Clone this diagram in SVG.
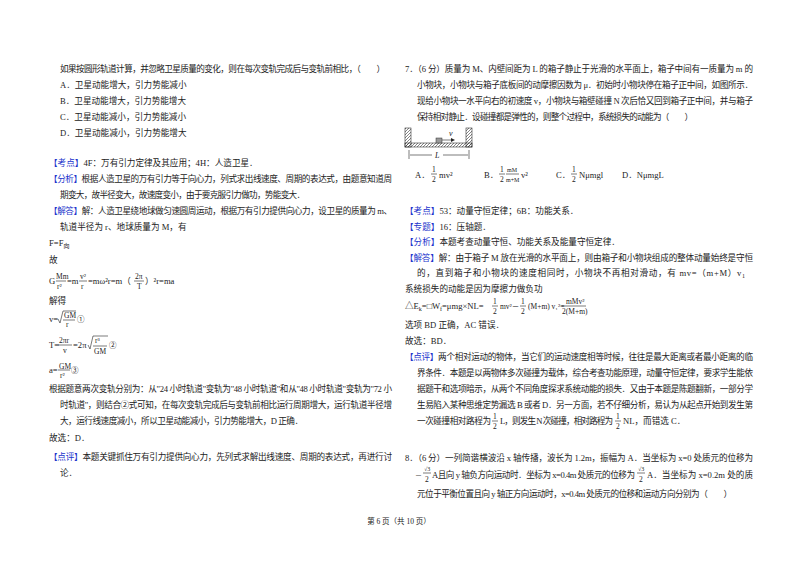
<svg xmlns="http://www.w3.org/2000/svg" width="800" height="565" viewBox="0 0 800 565">
<style>
text{font-family:"Liberation Serif","Noto Sans CJK SC",serif;font-size:8.6px;fill:#222}
.b{fill:#2233cc}
.s{font-size:7.5px}
.f{font-size:6px}
.ln{stroke:#222;stroke-width:0.6;fill:none}
</style>
<defs>
<pattern id="h" width="3" height="3" patternUnits="userSpaceOnUse"><path d="M0 3L3 0" stroke="#333" stroke-width="0.6"/></pattern>
</defs>
<rect width="800" height="565" fill="#fff"/>
<g id="left">
<text x="60" y="72" textLength="325">如果按圆形轨道计算，并忽略卫星质量的变化，则在每次变轨完成后与变轨前相比，（　　）</text>
<text x="60" y="88">A．卫星动能增大，引力势能减小</text>
<text x="60" y="104">B．卫星动能增大，引力势能增大</text>
<text x="60" y="120">C．卫星动能减小，引力势能减小</text>
<text x="60" y="136">D．卫星动能减小，引力势能增大</text>
<text x="49" y="166"><tspan class="b">【考点】</tspan>4F：万有引力定律及其应用；4H：人造卫星．</text>
<text x="49" y="182" textLength="343"><tspan class="b">【分析】</tspan>根据人造卫星的万有引力等于向心力，列式求出线速度、周期的表达式，由题意知道周</text>
<text x="60" y="198" textLength="245">期变大，故半径变大，故速度变小，由于要克服引力做功，势能变大．</text>
<text x="49" y="214" textLength="343"><tspan class="b">【解答】</tspan>解：人造卫星绕地球做匀速圆周运动，根据万有引力提供向心力，设卫星的质量为 m、</text>
<text x="60" y="230">轨道半径为 r、地球质量为 M，有</text>
<text x="49" y="246">F=F<tspan class="f" dy="2">向</tspan></text>
<text x="49" y="263">故</text>
<text x="49" y="284">G</text><text x="56" y="279" class="s">Mm</text><line class="ln" x1="56" y1="281" x2="66" y2="281"/><text x="57" y="289" class="s">r²</text>
<text x="67" y="284">=m</text><text x="80" y="279" class="s">v²</text><line class="ln" x1="79" y1="281" x2="87" y2="281"/><text x="81" y="289" class="s">r</text>
<text x="88" y="284">=mω²r=m（</text><text x="135" y="279" class="s">2π</text><line class="ln" x1="134" y1="281" x2="144" y2="281"/><text x="137" y="289" class="s">T</text><text x="145" y="284">）²r=ma</text>
<text x="49" y="304">解得</text>
<text x="49" y="322">v=</text><path class="ln" d="M58 319l2 4l3-12h13"/><text x="64" y="318" class="s">GM</text><line class="ln" x1="63" y1="320" x2="75" y2="320"/><text x="66" y="327" class="s">r</text><text x="77" y="322" class="s">①</text>
<text x="49" y="348">T=</text><text x="59" y="343" class="s">2πr</text><line class="ln" x1="58" y1="345" x2="72" y2="345"/><text x="63" y="353" class="s">v</text><text x="73" y="348">=2π</text><path class="ln" d="M88 345l2 4l3-13h15"/><text x="95" y="343" class="s">r³</text><line class="ln" x1="93" y1="346" x2="107" y2="346"/><text x="94" y="354" class="s">GM</text><text x="109" y="348" class="s">②</text>
<text x="49" y="373">a=</text><text x="59" y="369" class="s">GM</text><line class="ln" x1="58" y1="370" x2="70" y2="370"/><text x="60" y="378" class="s">r²</text><text x="71" y="373" class="s">③</text>
<text x="49" y="392" textLength="343">根据题意两次变轨分别为：从"24 小时轨道"变轨为"48 小时轨道"和从"48 小时轨道"变轨为"72 小</text>
<text x="60" y="408" textLength="332">时轨道"，则结合②式可知，在每次变轨完成后与变轨前相比运行周期增大，运行轨道半径增</text>
<text x="60" y="424" textLength="243">大，运行线速度减小，所以卫星动能减小，引力势能增大，D 正确．</text>
<text x="49" y="441">故选：D．</text>
<text x="49" y="460" textLength="343"><tspan class="b">【点评】</tspan>本题关键抓住万有引力提供向心力，先列式求解出线速度、周期的表达式，再进行讨</text>
<text x="60" y="476">论．</text>
</g>
<text x="399" y="524" text-anchor="middle" style="font-size:7.5px">第 6 页（共 10 页）</text>
<g id="right">
<text x="405" y="72" textLength="348">7．（6 分）质量为 M、内壁间距为 L 的箱子静止于光滑的水平面上，箱子中间有一质量为 m 的</text>
<text x="417" y="88" textLength="336">小物块，小物块与箱子底板间的动摩擦因数为 μ．初始时小物块停在箱子正中间，如图所示．</text>
<text x="417" y="104" textLength="336">现给小物块一水平向右的初速度 v，小物块与箱壁碰撞 N 次后恰又回到箱子正中间，并与箱子</text>
<text x="417" y="120" textLength="276">保持相对静止．设碰撞都是弹性的，则整个过程中，系统损失的动能为（　　）</text>
<g id="figure">
<rect x="405" y="128" width="6" height="19" fill="url(#h)" stroke="#333" stroke-width="0.6"/>
<rect x="466" y="128" width="6" height="19" fill="url(#h)" stroke="#333" stroke-width="0.6"/>
<rect x="405" y="143" width="67" height="4" fill="url(#h)" stroke="#333" stroke-width="0.6"/>
<rect x="436" y="138" width="6" height="5" fill="#999" stroke="#333" stroke-width="0.5"/>
<line class="ln" x1="442" y1="140" x2="452" y2="140"/><path d="M455 140l-4-2v4z" fill="#222"/>
<text x="449" y="136" style="font-size:8px;font-style:italic">v</text>
<line class="ln" x1="409" y1="150" x2="409" y2="159"/><line class="ln" x1="469" y1="150" x2="469" y2="159"/>
<line class="ln" x1="410" y1="155" x2="432" y2="155"/><line class="ln" x1="443" y1="155" x2="468" y2="155"/>
<text x="435" y="158" style="font-size:8px;font-style:italic">L</text>
</g>
<text x="415" y="178">A．</text><text x="432" y="172" class="s">1</text><line class="ln" x1="431" y1="174" x2="437" y2="174"/><text x="432" y="182" class="s">2</text><text x="439" y="178">mv²</text>
<text x="484" y="178">B．</text><text x="500" y="172" class="s">1</text><line class="ln" x1="499" y1="174" x2="505" y2="174"/><text x="500" y="182" class="s">2</text><text x="507" y="172" class="f">mM</text><line class="ln" x1="506" y1="174" x2="519" y2="174"/><text x="506" y="182" class="f">m+M</text><text x="521" y="178">v²</text>
<text x="556" y="178">C．</text><text x="572" y="172" class="s">1</text><line class="ln" x1="571" y1="174" x2="577" y2="174"/><text x="572" y="182" class="s">2</text><text x="579" y="178">Nμmgl</text>
<text x="622" y="178">D．NμmgL</text>
<text x="405" y="214"><tspan class="b">【考点】</tspan>53：动量守恒定律；6B：功能关系．</text>
<text x="405" y="230"><tspan class="b">【专题】</tspan>16：压轴题．</text>
<text x="405" y="245"><tspan class="b">【分析】</tspan>本题考查动量守恒、功能关系及能量守恒定律．</text>
<text x="405" y="261" textLength="348"><tspan class="b">【解答】</tspan>解：由于箱子 M 放在光滑的水平面上，则由箱子和小物块组成的整体动量始终是守恒</text>
<text x="417" y="276" textLength="328">的，直到箱子和小物块的速度相同时，小物块不再相对滑动，有 mv=（m+M）v<tspan class="f" dy="2">1</tspan></text>
<text x="405" y="292">系统损失的动能是因为摩擦力做负功</text>
<text x="405" y="309">△E<tspan class="f" dy="2">k</tspan><tspan dy="-2">=□W</tspan><tspan class="f" dy="2">f</tspan><tspan dy="-2">=μmg×NL=</tspan></text>
<text x="493" y="304" class="s">1</text><line class="ln" x1="492" y1="306" x2="498" y2="306"/><text x="493" y="314" class="s">2</text><text x="500" y="309" class="s">mv²－</text>
<text x="521" y="304" class="s">1</text><line class="ln" x1="520" y1="306" x2="526" y2="306"/><text x="521" y="314" class="s">2</text><text x="528" y="309" class="s">(M+m) v₁²=</text>
<text x="566" y="304" class="s">mMv²</text><line class="ln" x1="562" y1="306" x2="586" y2="306"/><text x="562" y="314" class="s">2(M+m)</text>
<text x="405" y="328">选项 BD 正确，AC 错误．</text>
<text x="405" y="344">故选：BD．</text>
<text x="405" y="360" textLength="348"><tspan class="b">【点评】</tspan>两个相对运动的物体，当它们的运动速度相等时候，往往是最大距离或者最小距离的临</text>
<text x="417" y="376" textLength="336">界条件．本题是以两物体多次碰撞为载体，综合考查功能原理，动量守恒定律，要求学生能依</text>
<text x="417" y="392" textLength="336">据题干和选项暗示，从两个不同角度探求系统动能的损失．又由于本题是陈题翻新，一部分学</text>
<text x="417" y="408" textLength="336">生易陷入某种思维定势漏选 B 或者 D．另一方面，若不仔细分析，易认为从起点开始到发生第</text>
<text x="417" y="424" textLength="74">一次碰撞相对路程为</text><text x="493" y="419" class="s">1</text><line class="ln" x1="492" y1="421" x2="498" y2="421"/><text x="493" y="429" class="s">2</text><text x="500" y="424" textLength="113">L，则发生 N 次碰撞，相对路程为</text><text x="616" y="419" class="s">1</text><line class="ln" x1="615" y1="421" x2="621" y2="421"/><text x="616" y="429" class="s">2</text><text x="623" y="424">NL，而错选 C．</text>
<text x="405" y="461" textLength="348">8．（6 分）一列简谐横波沿 x 轴传播，波长为 1.2m，振幅为 A．当坐标为 x=0 处质元的位移为</text>
<text x="415" y="478" style="font-size:7px">－</text><text x="424" y="471" class="f">√3</text><line class="ln" x1="423" y1="473" x2="431" y2="473"/><text x="425" y="482" class="s">2</text><text x="432" y="478" textLength="203">A且向 y 轴负方向运动时．坐标为 x=0.4m 处质元的位移为</text><text x="638" y="471" class="f">√3</text><line class="ln" x1="637" y1="473" x2="645" y2="473"/><text x="639" y="482" class="s">2</text><text x="647" y="478" textLength="106">A．当坐标为 x=0.2m 处的质</text>
<text x="417" y="497" textLength="315">元位于平衡位置且向 y 轴正方向运动时，x=0.4m 处质元的位移和运动方向分别为（　　）</text>
</g>
</svg>
